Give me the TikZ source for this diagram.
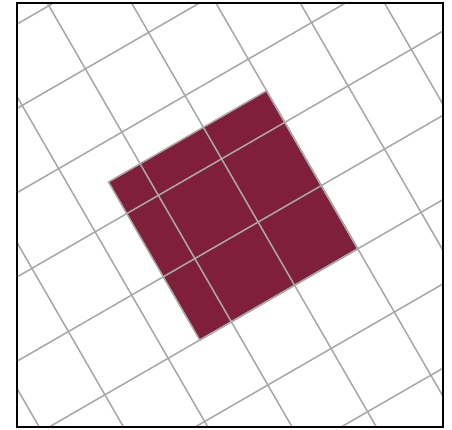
\documentclass[tikz,border=0pt]{standalone}
\usepackage{tikz}
\usetikzlibrary{calc}
\usepackage{xcolor}
\definecolor{tilered}{RGB}{128,31,59}
\definecolor{gridgray}{RGB}{168,168,168}

\begin{document}
\begin{tikzpicture}[scale=1]
    \useasboundingbox (0,0) rectangle (6.192,5.877);

    % Rotated grid with the tile
    \begin{scope}
        \clip (0.237,0.023) rectangle (6.064,5.832);
        \begin{scope}[shift={(1.3034,2.7007)}, rotate=30]
            \fill[tilered] (0.5,-2) rectangle (3,0.5);
            \draw[gridgray, line width=0.6pt] (-3,-5) grid (6,4);
            \draw[gridgray, line width=0.6pt] (0.5,-2) rectangle (3,0.5);
        \end{scope}
    \end{scope}

    % Frame
    \draw[black, line width=0.8pt] (0.237,0.023) rectangle (6.064,5.832);
\end{tikzpicture}
\end{document}
